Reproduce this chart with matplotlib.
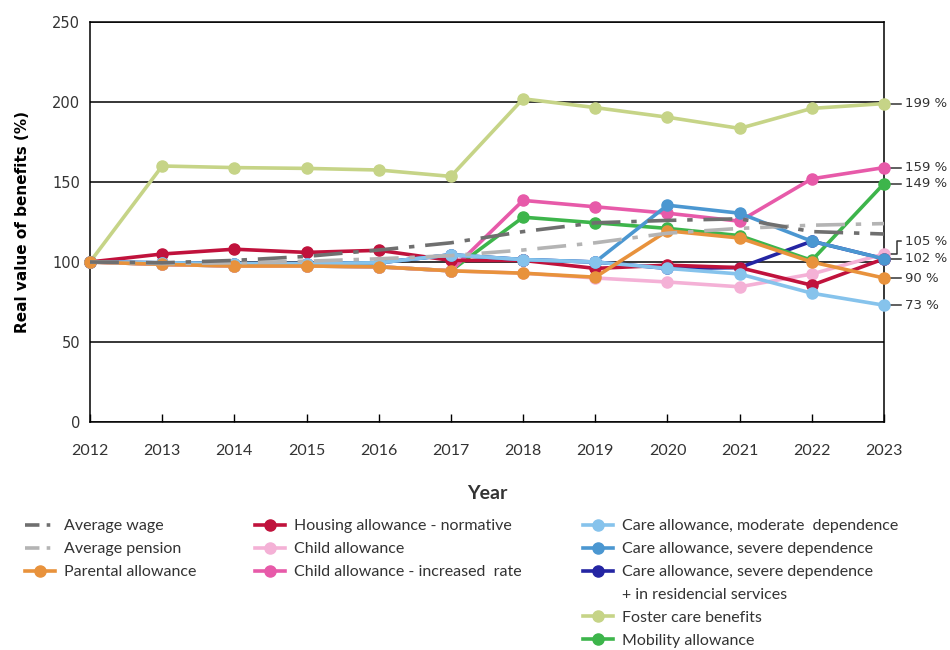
import matplotlib
matplotlib.use("Agg")
import matplotlib.pyplot as plt
from matplotlib.lines import Line2D
from matplotlib.transforms import blended_transform_factory

years = list(range(2012, 2024))

average_wage = [100, 99.5, 101, 103.5, 107.5, 112, 119, 124.5, 126, 127, 119, 117.5]
average_pension = [100, 99, 99.5, 100.5, 102, 104, 107.5, 112, 118, 121, 123, 124]
parental_allowance = [100, 98.5, 97.5, 97.5, 97, 94.5, 93, 90.5, 119.5, 115, 100, 90]
housing_allowance = [100, 105, 108, 106, 107.3, 101, 101, 96, 98, 96.5, 85.5, 102]
child_allowance = [100, 98.5, 97.5, 97.5, 97, 94.5, 93, 90, 87.5, 84.5, 92.5, 105]
child_allowance_increased = [100, 98.5, 97.5, 97.5, 97, 94.5, 138.5, 134.5, 130.5, 125.5, 152, 159]
care_moderate = [100, 99.5, 99, 99, 99.5, 104.5, 101.5, 100, 96, 92.5, 80.5, 73]
care_severe = [100, 99.5, 99, 99, 99.5, 104.5, 101.5, 100, 135.5, 130.5, 113, 102]
care_severe_residential = [100, 99.5, 99, 99, 99.5, 104.5, 101.5, 100, 96, 96.5, 113, 102]
foster_care = [100, 160, 159, 158.5, 157.5, 153.5, 202, 196.5, 190.5, 183.5, 196, 199]
mobility_allowance = [100, 98.5, 97.5, 97.5, 97, 94.5, 128, 124.5, 121, 116.5, 101, 149]

end_values = [199, 159, 149, 105, 102, 90, 73]
end_label_y = [199, 159, 149, 113, 102, 90, 73]

C_WAGE = "#6f6f6f"
C_PENSION = "#b4b4b4"
C_PARENTAL = "#e8923c"
C_HOUSING = "#c0123c"
C_CHILD = "#f4b1d6"
C_CHILD_INC = "#e75aa9"
C_CARE_MOD = "#86c3ec"
C_CARE_SEV = "#4b97d1"
C_CARE_RES = "#2425a3"
C_FOSTER = "#c6d487"
C_MOBILITY = "#3db54b"

TEXT = "#333333"
NARROW = ["Lato", "DejaVu Sans"]

fig = plt.figure(figsize=(9.5, 6.5), dpi=100)
ax = fig.add_axes([90 / 950, 1 - 422 / 650, 794 / 950, 400 / 650])

LW = 2.6
MS = 8

series = [
    # (values, color, style, marker, zorder)
    (foster_care, C_FOSTER, "-", "o", 3),
    (care_severe_residential, C_CARE_RES, "-", "o", 4),
    (mobility_allowance, C_MOBILITY, "-", "o", 5),
    (child_allowance_increased, C_CHILD_INC, "-", "o", 6),
    (child_allowance, C_CHILD, "-", "o", 7),
    (housing_allowance, C_HOUSING, "-", "o", 8),
    (care_severe, C_CARE_SEV, "-", "o", 9),
    (care_moderate, C_CARE_MOD, "-", "o", 10),
    (parental_allowance, C_PARENTAL, "-", "o", 11),
    (average_pension, C_PENSION, (0, (8, 3, 1.5, 3)), None, 12),
    (average_wage, C_WAGE, (0, (8, 3, 1.5, 3)), None, 13),
]
for vals, col, ls, mk, z in series:
    ax.plot(years, vals, color=col, lw=LW, linestyle=ls, marker=mk,
            markersize=MS, zorder=z, clip_on=False,
            solid_joinstyle="round", dash_capstyle="butt")

ax.set_xlim(2012, 2023)
ax.set_ylim(0, 250)
ax.set_yticks([0, 50, 100, 150, 200, 250])
ax.set_xticks(years)
ax.grid(axis="y", color="black", lw=1.1, zorder=1)
ax.set_axisbelow(True)
for s in ax.spines.values():
    s.set_color("black")
    s.set_linewidth(1.1)

ax.tick_params(axis="y", length=0, pad=7, labelsize=10.5, labelcolor=TEXT)
ax.tick_params(axis="x", direction="in", length=6, width=1, pad=16,
               labelcolor=TEXT)
for lab in ax.get_xticklabels():
    lab.set_fontfamily(NARROW)
    lab.set_fontsize(11.5)

ax.set_xlabel("Year", fontsize=14, fontfamily=NARROW, fontweight="bold",
              color=TEXT, labelpad=19)
ax.set_ylabel("Real value of benefits (%)", fontsize=11, fontweight="bold",
              color="black", labelpad=16)

# end-of-series value labels with leader lines
tr = blended_transform_factory(ax.transAxes, ax.transData)
for v, ly in zip(end_values, end_label_y):
    if ly == v:
        ax.plot([1.0, 1.021], [v, v], color=TEXT, lw=1.1, transform=tr,
                clip_on=False)
    else:
        ax.plot([1.0, 1.0165, 1.0165, 1.021], [v, v, ly, ly], color=TEXT,
                lw=1.1, transform=tr, clip_on=False)
    ax.text(1.026, ly, f"{v:g} %", transform=tr, ha="left", va="center",
            fontsize=9.5, color=TEXT)

# legend in three columns
def handle(col, ls="-", mk="o"):
    return Line2D([], [], color=col, lw=LW, linestyle=ls, marker=mk,
                  markersize=MS)

dashdot = (0, (4, 2, 1, 2))
col1 = [(handle(C_WAGE, dashdot, None), "Average wage"),
        (handle(C_PENSION, dashdot, None), "Average pension"),
        (handle(C_PARENTAL), "Parental allowance")]
col2 = [(handle(C_HOUSING), "Housing allowance - normative"),
        (handle(C_CHILD), "Child allowance"),
        (handle(C_CHILD_INC), "Child allowance - increased  rate")]
col3 = [(handle(C_CARE_MOD), "Care allowance, moderate  dependence"),
        (handle(C_CARE_SEV), "Care allowance, severe dependence"),
        (handle(C_CARE_RES), "Care allowance, severe dependence"),
        (Line2D([], [], color="none"), "+ in residencial services"),
        (handle(C_FOSTER), "Foster care benefits"),
        (handle(C_MOBILITY), "Mobility allowance")]

for items, x0 in [(col1, 25 / 950), (col2, 255 / 950), (col3, 583 / 950)]:
    leg = fig.legend([h for h, _ in items], [t for _, t in items],
                     loc="upper left", bbox_to_anchor=(x0, 1 - 519 / 650),
                     frameon=False, handlelength=1.9, handletextpad=0.55,
                     labelspacing=0.55, borderaxespad=0, borderpad=0,
                     prop={"family": NARROW, "size": 11.5})
    for t in leg.get_texts():
        t.set_color(TEXT)

fig.savefig("out.png", dpi=100)
